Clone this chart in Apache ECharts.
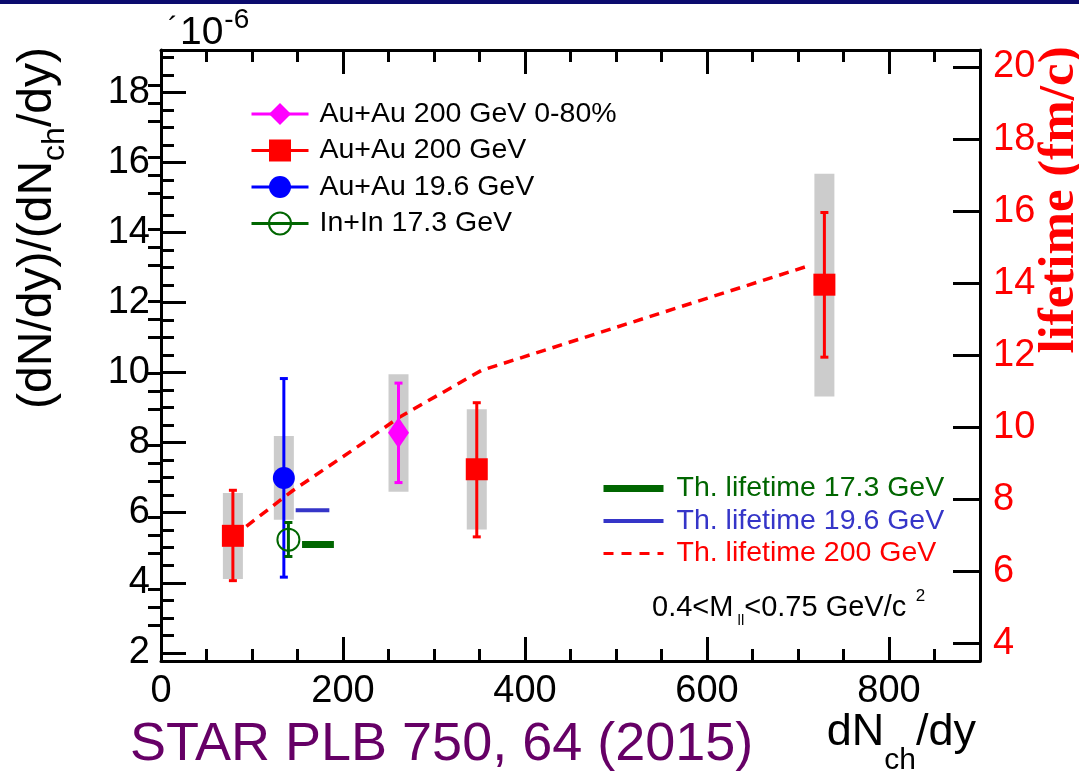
<!DOCTYPE html>
<html>
<head>
<meta charset="utf-8">
<script src="https://cdn.jsdelivr.net/npm/echarts@6/dist/echarts.min.js"></script>
<style>
  html, body { margin: 0; padding: 0; background: #ffffff; }
  #chart { width: 1079px; height: 779px; }
</style>
</head>
<body>
<div id="chart"></div>
<script>
// Rows: [dNch/dy, value (x1e-6), stat low, stat high, sys low, sys high]
const auau200Cent = [
  [79, 5.34, 4.06, 6.64, 4.11, 6.56],
  [347, 7.24, 5.31, 9.14, 5.52, 8.95],
  [729, 12.51, 10.44, 14.57, 9.32, 15.68]
];
const auau200MinBias = [
  [261, 8.28, 6.86, 9.70, 6.60, 9.95]
];
const auau196 = [
  [135, 6.99, 4.16, 9.83, 5.80, 8.19]
];
const inin173 = [
  [140, 5.23, 4.75, 5.72, null, null]
];

// Model fireball lifetime (fm/c) vs dNch/dy
const lifetime200 = [[79, 6.97], [145, 8.25], [221, 9.55], [261, 10.27], [352, 11.58], [710, 14.47]];
const lifetime196 = [[148, 7.70], [185, 7.70]];
const lifetime173 = [[155, 6.75], [190, 6.75]];

// Axis ticks
const xMajorTicks = [0, 200, 400, 600, 800];
const xMinorTicks = [50, 100, 150, 250, 300, 350, 450, 500, 550, 650, 700, 750, 850];
const yMajorTicks = [2, 4, 6, 8, 10, 12, 14, 16, 18];
const yMinorTicks = [2.5, 3, 3.5, 4.5, 5, 5.5, 6.5, 7, 7.5, 8.5, 9, 9.5, 10.5, 11, 11.5,
  12.5, 13, 13.5, 14.5, 15, 15.5, 16.5, 17, 17.5, 18.5, 19];
const lifetimeMajorTicks = [4, 6, 8, 10, 12, 14, 16, 18, 20];
const lifetimeMinorTicks = [4.5, 5, 5.5, 6.5, 7, 7.5, 8.5, 9, 9.5, 10.5, 11, 11.5, 12.5, 13, 13.5,
  14.5, 15, 15.5, 16.5, 17, 17.5, 18.5, 19, 19.5];

const SANS = 'Liberation Sans, Arial, sans-serif';
const SERIF = 'Liberation Serif, Times New Roman, serif';
const RED = '#ff0000', BLUE = '#0000ff', MAGENTA = '#ff00ff', GREEN = '#006600';
const TH_BLUE = '#3535c8';

const chart = echarts.init(document.getElementById('chart'), null, { renderer: 'canvas' });

const frameLine = { show: true, onZero: false, lineStyle: { color: '#000', width: 3 } };
const tickStyle = { color: '#000', width: 3 };

function valueAxis(extra) {
  return Object.assign({
    type: 'value',
    gridIndex: 0,
    splitLine: { show: false },
    axisLine: { show: false },
    axisLabel: { show: false },
    axisTick: { show: false }
  }, extra);
}

// Gray boxes for systematic uncertainties
function sysSeries(rows) {
  return {
    type: 'custom',
    xAxisIndex: 0, yAxisIndex: 0,
    z: 1, silent: true, animation: false,
    data: rows.filter(r => r[4] != null).map(r => [r[0], r[4], r[5]]),
    renderItem: (params, api) => {
      const hi = api.coord([api.value(0), api.value(2)]);
      const lo = api.coord([api.value(0), api.value(1)]);
      return {
        type: 'rect',
        shape: { x: hi[0] - 10, y: hi[1], width: 20, height: lo[1] - hi[1] },
        style: { fill: '#cccccc' }
      };
    }
  };
}

// Statistical error bars with caps
function statSeries(rows, color) {
  return {
    type: 'custom',
    xAxisIndex: 0, yAxisIndex: 0,
    z: 3, silent: true, animation: false,
    data: rows.map(r => [r[0], r[2], r[3]]),
    renderItem: (params, api) => {
      const hi = api.coord([api.value(0), api.value(2)]);
      const lo = api.coord([api.value(0), api.value(1)]);
      const st = { stroke: color, lineWidth: 3 };
      return {
        type: 'group',
        children: [
          { type: 'line', shape: { x1: hi[0], y1: hi[1], x2: lo[0], y2: lo[1] }, style: st },
          { type: 'line', shape: { x1: hi[0] - 4, y1: hi[1], x2: hi[0] + 4, y2: hi[1] }, style: st },
          { type: 'line', shape: { x1: lo[0] - 4, y1: lo[1], x2: lo[0] + 4, y2: lo[1] }, style: st }
        ]
      };
    }
  };
}

function pointSeries(name, rows, symbol, size, itemStyle, lineColor) {
  return {
    name: name,
    type: 'line',
    xAxisIndex: 0, yAxisIndex: 0,
    z: 4, silent: true, animation: false,
    data: rows.map(r => [r[0], r[1]]),
    symbol: symbol,
    symbolSize: size,
    showSymbol: true,
    itemStyle: itemStyle,
    lineStyle: { color: lineColor, width: 3, opacity: 0 }
  };
}

function theorySeries(name, data, color, width, type) {
  return {
    name: name,
    type: 'line',
    xAxisIndex: 0, yAxisIndex: 2,
    z: 2, silent: true, animation: false,
    data: data,
    symbol: 'none',
    itemStyle: { color: color },
    lineStyle: { color: color, width: width, type: type, cap: 'butt' }
  };
}

const option = {
  backgroundColor: '#ffffff',
  animation: false,
  grid: { left: 161, right: 99, top: 50, bottom: 118, containLabel: false },
  xAxis: [
    valueAxis({
      position: 'bottom', min: 0, max: 900,
      axisLine: frameLine,
      axisTick: { show: true, inside: true, length: 24, customValues: xMajorTicks, lineStyle: tickStyle },
      axisLabel: { show: true, customValues: xMajorTicks, fontFamily: SANS, fontSize: 38, color: '#000', margin: 12 }
    }),
    valueAxis({
      position: 'bottom', min: 0, max: 900,
      axisTick: { show: true, inside: true, length: 12, customValues: xMinorTicks, lineStyle: tickStyle }
    }),
    valueAxis({
      position: 'top', min: 0, max: 900,
      axisLine: frameLine,
      axisTick: { show: true, inside: true, length: 24, customValues: xMajorTicks, lineStyle: tickStyle }
    }),
    valueAxis({
      position: 'top', min: 0, max: 900,
      axisTick: { show: true, inside: true, length: 12, customValues: xMinorTicks, lineStyle: tickStyle }
    })
  ],
  yAxis: [
    valueAxis({
      position: 'left', min: 1.766, max: 19.21,
      axisLine: frameLine,
      axisTick: { show: true, inside: true, length: 25, customValues: yMajorTicks, lineStyle: tickStyle },
      axisLabel: { show: true, customValues: yMajorTicks, fontFamily: SANS, fontSize: 38, color: '#000', margin: 11 }
    }),
    valueAxis({
      position: 'left', min: 1.766, max: 19.21,
      axisTick: { show: true, inside: true, length: 13, customValues: yMinorTicks, lineStyle: tickStyle }
    }),
    valueAxis({
      position: 'right', min: 3.52, max: 20.47,
      axisLine: frameLine,
      axisTick: { show: true, inside: true, length: 27, customValues: lifetimeMajorTicks, lineStyle: tickStyle },
      axisLabel: { show: true, customValues: lifetimeMajorTicks, fontFamily: SANS, fontSize: 38, color: RED, margin: 13 }
    }),
    valueAxis({
      position: 'right', min: 3.52, max: 20.47,
      axisTick: { show: true, inside: true, length: 13, customValues: lifetimeMinorTicks, lineStyle: tickStyle }
    })
  ],
  legend: [
    {
      orient: 'vertical', left: 250, top: 99.5, padding: 0,
      itemWidth: 57, itemHeight: 27.5, itemGap: 7.5,
      selectedMode: false,
      textStyle: { fontFamily: SANS, fontSize: 28.5, lineHeight: 28, color: '#000', padding: [0, 0, 0, 6] },
      lineStyle: { width: 3, opacity: 1 },
      data: ['Au+Au 200 GeV 0-80%', 'Au+Au 200 GeV', 'Au+Au 19.6 GeV', 'In+In 17.3 GeV']
    },
    {
      orient: 'vertical', left: 600, top: 474, padding: 0,
      itemWidth: 60, itemHeight: 20, itemGap: 3.5,
      selectedMode: false,
      textStyle: { fontFamily: SANS, fontSize: 28.5, lineHeight: 20, padding: [0, 0, 0, 8] },
      data: [
        { name: 'Th. lifetime 17.3 GeV', textStyle: { color: GREEN },
          itemStyle: { opacity: 0 }, lineStyle: { width: 7, type: 'solid', opacity: 1 } },
        { name: 'Th. lifetime 19.6 GeV', textStyle: { color: TH_BLUE },
          itemStyle: { opacity: 0 }, lineStyle: { width: 4, type: 'solid', opacity: 1 } },
        { name: 'Th. lifetime 200 GeV', textStyle: { color: RED },
          itemStyle: { opacity: 0 }, lineStyle: { width: 3, type: [10, 8], opacity: 1 } }
      ]
    }
  ],
  series: [
    sysSeries(auau200Cent),
    sysSeries(auau200MinBias),
    sysSeries(auau196),
    theorySeries('Th. lifetime 200 GeV', lifetime200, RED, 3.5, [10, 7]),
    theorySeries('Th. lifetime 19.6 GeV', lifetime196, TH_BLUE, 4, 'solid'),
    theorySeries('Th. lifetime 17.3 GeV', lifetime173, GREEN, 7, 'solid'),
    statSeries(auau196, BLUE),
    statSeries(auau200Cent, RED),
    statSeries(auau200MinBias, MAGENTA),
    statSeries(inin173, GREEN),
    pointSeries('Au+Au 200 GeV 0-80%', auau200MinBias, 'diamond', [21, 31], { color: MAGENTA }, MAGENTA),
    pointSeries('Au+Au 200 GeV', auau200Cent, 'rect', 22, { color: RED }, RED),
    pointSeries('Au+Au 19.6 GeV', auau196, 'circle', 22, { color: BLUE }, BLUE),
    pointSeries('In+In 17.3 GeV', inin173, 'circle', 22,
      { color: 'rgba(0,0,0,0)', borderColor: GREEN, borderWidth: 2 }, GREEN)
  ],
  graphic: [
    { type: 'rect', left: 0, top: 0, shape: { width: 1079, height: 4 }, style: { fill: '#0b0b6e' }, silent: true },
    {
      type: 'text', x: 168, y: 6, silent: true,
      style: {
        text: '{a|´}{b|10}{c|-6}',
        fill: '#000',
        rich: {
          a: { fontFamily: SANS, fontSize: 30, lineHeight: 30, verticalAlign: 'top', padding: [8, 2, 0, 0] },
          b: { fontFamily: SANS, fontSize: 39, lineHeight: 39, verticalAlign: 'top', padding: [8, 1, 0, 0] },
          c: { fontFamily: SANS, fontSize: 28, lineHeight: 28, verticalAlign: 'top' }
        }
      }
    },
    {
      type: 'text', x: 38, y: 228, rotation: Math.PI / 2, silent: true,
      style: {
        text: '{m|(dN/dy)/(dN}{s|ch}{m|/dy)}',
        align: 'center', verticalAlign: 'middle', fill: '#000',
        rich: {
          m: { fontFamily: SANS, fontSize: 48, lineHeight: 48, verticalAlign: 'top' },
          s: { fontFamily: SANS, fontSize: 32, lineHeight: 32, verticalAlign: 'top', padding: [25, 0, 0, 0] }
        }
      }
    },
    {
      type: 'text', x: 1060, y: 200, rotation: Math.PI / 2, silent: true,
      style: {
        text: 'lifetime (fm/c)', align: 'center', verticalAlign: 'middle',
        font: 'bold 51px ' + SERIF, fill: RED
      }
    },
    {
      type: 'text', x: 976, y: 710, silent: true,
      style: {
        text: '{m|dN}{s|ch}{m|/dy}',
        align: 'right', verticalAlign: 'top', fill: '#000',
        rich: {
          m: { fontFamily: SANS, fontSize: 45, lineHeight: 45, verticalAlign: 'top' },
          s: { fontFamily: SANS, fontSize: 30, lineHeight: 30, verticalAlign: 'top', padding: [36, 0, 0, 0] }
        }
      }
    },
    {
      type: 'text', x: 130, y: 745, silent: true,
      style: {
        text: 'STAR PLB 750, 64 (2015)', align: 'left', verticalAlign: 'middle',
        font: '54px ' + SANS, fill: '#660066'
      }
    },
    {
      type: 'text', x: 652, y: 588, silent: true,
      style: {
        text: '{m|0.4<M}{s| ll}{m|<0.75 GeV/c}{p|  2}',
        align: 'left', verticalAlign: 'top', fill: '#000',
        rich: {
          m: { fontFamily: SANS, fontSize: 29, lineHeight: 29, verticalAlign: 'top', padding: [5, 0, 0, 0] },
          s: { fontFamily: SANS, fontSize: 15, lineHeight: 15, verticalAlign: 'top', padding: [25, 0, 0, 0] },
          p: { fontFamily: SANS, fontSize: 17, lineHeight: 17, verticalAlign: 'top' }
        }
      }
    }
  ]
};

chart.setOption(option);
</script>
</body>
</html>
